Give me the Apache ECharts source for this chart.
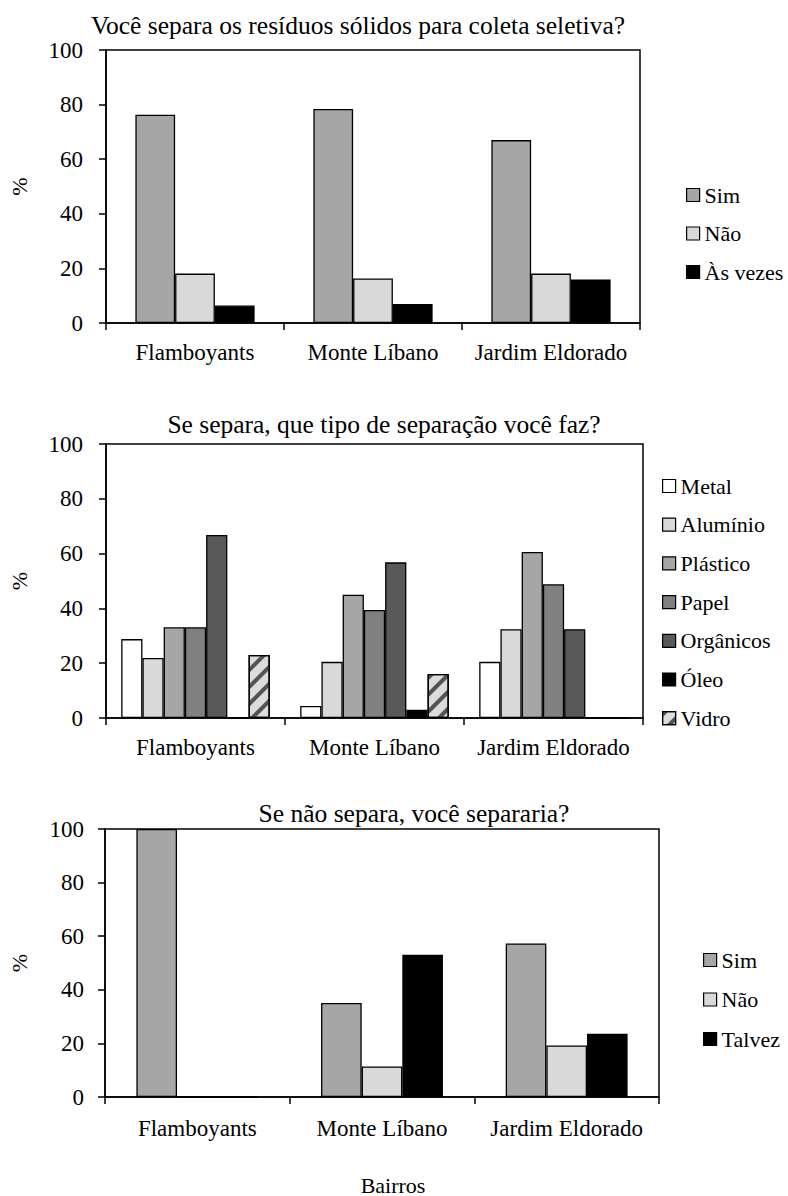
<!DOCTYPE html>
<html>
<head>
<meta charset="utf-8">
<title>Coleta seletiva por bairro</title>
<script src="https://cdn.jsdelivr.net/npm/echarts@6/dist/echarts.min.js"></script>
<style>
  html, body { margin: 0; padding: 0; background: #ffffff; }
  #main { width: 788px; height: 1196px; }
</style>
</head>
<body>
<div id="main"></div>
<script>
// Neighbourhoods (shared by the three panels)
const bairros = ['Flamboyants', 'Monte Líbano', 'Jardim Eldorado'];
const yTicks = [0, 20, 40, 60, 80, 100];

// Panel 1: Você separa os resíduos sólidos para coleta seletiva? (%)
const separaSim = [76.3, 78.4, 67.0];
const separaNao = [18.1, 16.3, 18.1];
const separaAsVezes = [6.4, 7.0, 15.9];

// Panel 2: Se separa, que tipo de separação você faz? (%)
const tipoMetal = [28.8, 4.4, 20.5];
const tipoAluminio = [21.9, 20.5, 32.4];
const tipoPlastico = [33.1, 45.0, 60.6];
const tipoPapel = [33.1, 39.4, 48.8];
const tipoOrganicos = [66.8, 56.8, 32.4];
const tipoOleo = [0, 3.0, 0];
const tipoVidro = [23.0, 16.1, 0];

// Panel 3: Se não separa, você separaria? (%)
const separariaSim = [100, 35.1, 57.3];
const separariaNao = [0, 11.4, 19.2];
const separariaTalvez = [0, 53.1, 23.6];

const FONT = 'Liberation Serif';
const INK = '#000000';

const chart = echarts.init(document.getElementById('main'), null, {
  renderer: 'svg', width: 788, height: 1196
});

// Plot rectangles of the three panels
const grids = [
  { left: 96, top: 50, width: 544, height: 273 },
  { left: 93, top: 444, width: 550, height: 274 },
  { left: 100, top: 829, width: 559, height: 268 }
];
const yLabelMargin = [23, 23, 21];
const xLabelMargin = [18, 18, 20];
const yNameGap = [76, 76, 75];

function xAxisFor(i) {
  return {
    type: 'category', gridIndex: i, data: bairros,
    axisLine: { show: true, lineStyle: { color: INK, width: 1.5 } },
    axisTick: { show: true, length: 7, lineStyle: { color: INK, width: 1.5 } },
    axisLabel: {
      interval: 0, hideOverlap: false,
      color: INK, fontSize: 23, fontFamily: FONT, margin: xLabelMargin[i]
    },
    splitLine: { show: false }
  };
}
function yAxisFor(i) {
  return {
    type: 'value', gridIndex: i, min: yTicks[0], max: yTicks[yTicks.length - 1], interval: 20,
    name: '%', nameLocation: 'middle', nameGap: yNameGap[i],
    nameTextStyle: { color: INK, fontSize: 22, fontFamily: FONT },
    axisLine: { show: true, lineStyle: { color: INK, width: 1.5 } },
    axisTick: { show: true, length: 7, lineStyle: { color: INK, width: 1.5 } },
    axisLabel: { color: INK, fontSize: 23, fontFamily: FONT, margin: yLabelMargin[i] },
    splitLine: { show: false }
  };
}

function bar(name, data, panel, color, gap, extra) {
  return Object.assign({
    type: 'bar', name: name, data: data,
    xAxisIndex: panel, yAxisIndex: panel,
    barGap: '0%', barCategoryGap: gap,
    itemStyle: { color: color, borderColor: INK, borderWidth: 1.3 },
    emphasis: { disabled: true },
    animation: false
  }, extra || {});
}

// Glass bars: light grey with dark diagonal hatching
const vidroDecal = {
  symbol: 'rect', symbolSize: 1,
  color: 'rgba(60,60,60,0.85)',
  dashArrayX: [1, 0],
  dashArrayY: [4, 8],
  rotation: -Math.PI / 4
};

const series = [
  bar('Sim', separaSim, 0, '#a6a6a6', '33%'),
  bar('Não', separaNao, 0, '#d9d9d9', '33%'),
  bar('Às vezes', separaAsVezes, 0, '#000000', '33%'),

  bar('Metal', tipoMetal, 1, '#ffffff', '17%'),
  bar('Alumínio', tipoAluminio, 1, '#d9d9d9', '17%'),
  bar('Plástico', tipoPlastico, 1, '#a6a6a6', '17%'),
  bar('Papel', tipoPapel, 1, '#808080', '17%'),
  bar('Orgânicos', tipoOrganicos, 1, '#595959', '17%'),
  bar('Óleo', tipoOleo, 1, '#000000', '17%'),
  bar('Vidro', tipoVidro, 1, '#dcdcdc', '17%', {
    itemStyle: { color: '#dcdcdc', borderColor: INK, borderWidth: 1.3, decal: vidroDecal }
  }),

  bar('Sim', separariaSim, 2, '#a6a6a6', '34%'),
  bar('Não', separariaNao, 2, '#d9d9d9', '34%'),
  bar('Talvez', separariaTalvez, 2, '#000000', '34%')
];

function legendFor(names, left, top, gap) {
  return {
    orient: 'vertical', left: left, top: top, padding: 0,
    data: names, icon: 'rect', itemWidth: 13, itemHeight: 13, itemGap: gap,
    selectedMode: false,
    itemStyle: { borderColor: INK, borderWidth: 1.2 },
    textStyle: { color: INK, fontSize: 22, fontFamily: FONT, lineHeight: 23 }
  };
}

function heading(text, x, y, size) {
  return {
    type: 'text', x: x, y: y, silent: true,
    style: {
      text: text, fill: INK, font: size + 'px ' + FONT,
      align: 'center', verticalAlign: 'middle',
      textAlign: 'center', textVerticalAlign: 'middle'
    }
  };
}

chart.setOption({
  backgroundColor: '#ffffff',
  animation: false,
  grid: grids.map(g => Object.assign({ show: true, borderColor: INK, borderWidth: 1.5, backgroundColor: 'transparent' }, g)),
  xAxis: [0, 1, 2].map(xAxisFor),
  yAxis: [0, 1, 2].map(yAxisFor),
  legend: [
    legendFor(['Sim', 'Não', 'Às vezes'], 686, 183.5, 15.5),
    legendFor(['Metal', 'Alumínio', 'Plástico', 'Papel', 'Orgânicos', 'Óleo', 'Vidro'], 662, 474.5, 15.7),
    legendFor(['Sim', 'Não', 'Talvez'], 703, 948.5, 16.5)
  ],
  graphic: [
    heading('Você separa os resíduos sólidos para coleta seletiva?', 358, 25, 25.5),
    heading('Se separa, que tipo de separação você faz?', 384, 424, 25.5),
    heading('Se não separa, você separaria?', 414, 813, 25.5),
    heading('Bairros', 393, 1185, 22)
  ],
  series: series
});
</script>
</body>
</html>
